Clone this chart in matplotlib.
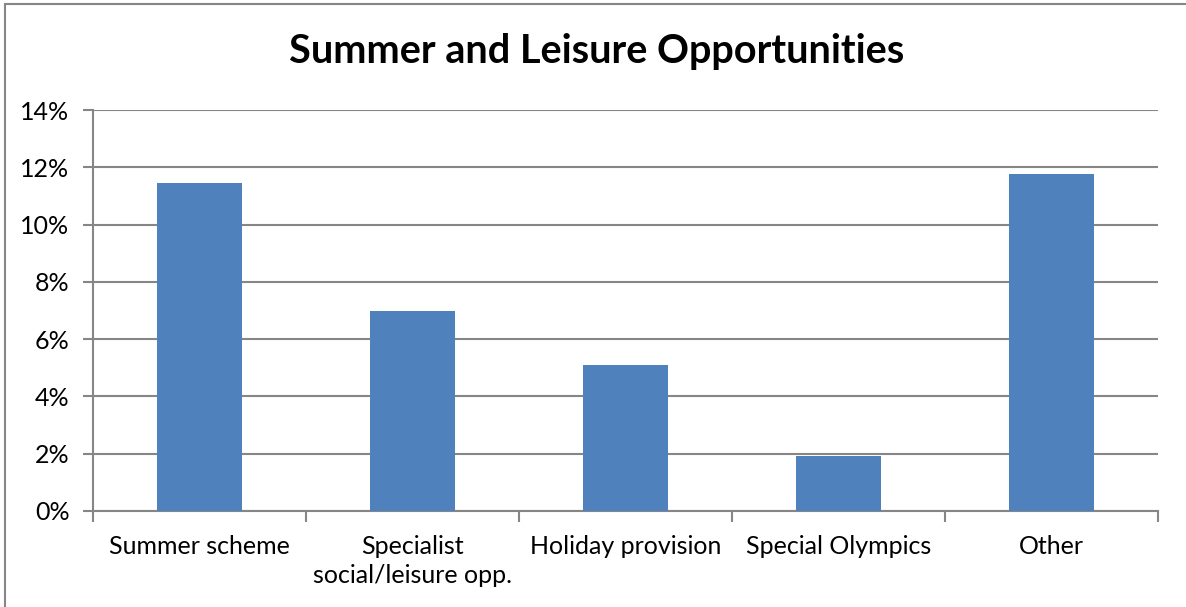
import matplotlib
matplotlib.use('Agg')
import matplotlib.pyplot as plt
from matplotlib.patches import Rectangle
from matplotlib.ticker import FuncFormatter, MultipleLocator
import numpy as np

categories = ['Summer scheme', 'Specialist\nsocial/leisure opp.', 'Holiday provision',
              'Special Olympics', 'Other']
values = [11.45, 7.0, 5.1, 1.92, 11.77]
title = 'Summer and Leisure Opportunities'

plt.rcParams['font.family'] = ['Lato', 'DejaVu Sans']

W, H = 1186, 607
fig = plt.figure(figsize=(W / 100, H / 100), dpi=100)

# chart frame (only left and top edges fall inside the image)
fig.patches.append(Rectangle((5 / W, -0.1), 1.2, (H - 4) / H + 0.1, transform=fig.transFigure,
                             fill=False, edgecolor='#868686', linewidth=1.5))

ax = fig.add_axes([93 / W, 1 - 511 / H, (1158 - 93) / W, (511 - 110) / H])
x = np.arange(len(categories))
ax.bar(x, values, width=0.4, color='#4F81BD', zorder=3)

ax.set_xlim(-0.5, len(categories) - 0.5)
ax.set_ylim(0, 14)
ax.yaxis.set_major_locator(MultipleLocator(2))
ax.yaxis.set_major_formatter(FuncFormatter(lambda v, p: f'{v:.0f}%'))
ax.grid(axis='y', color='#868686', linewidth=1.5, zorder=0)

for s in ['top', 'right']:
    ax.spines[s].set_visible(False)
for s in ['left', 'bottom']:
    ax.spines[s].set_color('#868686')
    ax.spines[s].set_linewidth(1.5)

ax.set_xticks(np.arange(-0.5, len(categories)), minor=False)
ax.set_xticklabels([])
ax.tick_params(axis='x', which='major', length=8, width=1.5, color='#868686')
ax.set_xticks(x, minor=True)
ax.set_xticklabels(categories, minor=True, fontsize=18)
ax.tick_params(axis='x', which='minor', length=0, pad=17)
for lab in ax.get_xticklabels(minor=True):
    lab.set_linespacing(1.35)
ax.tick_params(axis='y', length=7, width=1.5, color='#868686', labelsize=18, pad=10)

fig.text(597 / W, 1 - 52 / H, title, ha='center', va='center', fontsize=28.5, fontweight='bold')

fig.savefig('out.png', dpi=100)
